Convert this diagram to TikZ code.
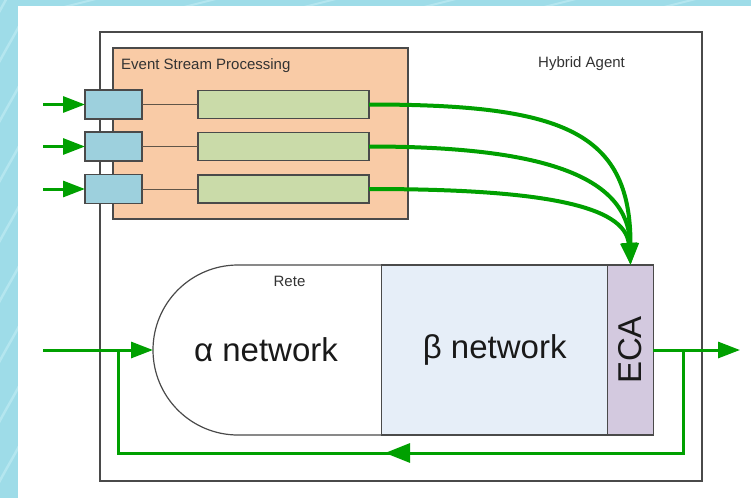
\documentclass[tikz,border=0pt]{standalone}
\usepackage{fontspec}
\setmainfont{Liberation Sans}
\usetikzlibrary{arrows.meta}
\definecolor{bgcyan}{HTML}{9EDCE8}
\definecolor{bgstreak}{HTML}{B4E6EF}
\definecolor{flow}{HTML}{00A000}
\definecolor{edge}{HTML}{4A4A4A}
\definecolor{espfill}{HTML}{F9CBA6}
\definecolor{portfill}{HTML}{9DD0DD}
\definecolor{queuefill}{HTML}{CADBA9}
\definecolor{betafill}{HTML}{E6EEF8}
\definecolor{ecafill}{HTML}{D3C9DF}
\tikzset{
  box/.style={draw=edge, line width=1.3pt, inner sep=0pt, outer sep=0pt},
  port/.style={box, fill=portfill, minimum width=57, minimum height=29},
  queue/.style={box, fill=queuefill, minimum width=171, minimum height=28},
  link/.style={draw=edge!80!brown, line width=1pt},
  flowline/.style={draw=flow, line width=3pt},
  streamline/.style={draw=flow, line width=4pt},
  flowtip/.style={-{Triangle[length=22pt,width=16pt]}},
  smalltext/.style={text=black!80, font=\fontsize{15}{17}\selectfont, inner sep=0pt},
  bigtext/.style={text=black!90, font=\fontsize{33}{38}\selectfont, inner sep=0pt}
}
\begin{document}
\begin{tikzpicture}[x=1pt,y=-1pt]
\useasboundingbox (0,0) rectangle (751,498);

% page background: patterned cyan margin and white sheet
\fill[bgcyan] (0,0) rectangle (751,498);
\begin{scope}
  \clip (0,0) rectangle (751,6) (0,0) rectangle (18,498);
  \foreach \y in {20,70,130,190,250,310,370,430,490} {
    \draw[bgstreak, line width=2.5pt] (-5,\y) .. controls (8,\y-25) and (12,\y-30) .. (25,\y-55);
  }
  \foreach \x in {60,180,300,420,540,660} {
    \draw[bgstreak, line width=2pt] (\x,8) -- (\x+40,-2);
  }
\end{scope}
\fill[white] (18,6) rectangle (751,498);

% hybrid agent frame
\node[box, draw=edge, minimum width=602, minimum height=449, anchor=north west] (agent) at (100,32) {};
\node[smalltext, anchor=west] (agentlbl) at (538,64) {Hybrid Agent};

% event stream processing block
\node[box, fill=espfill, minimum width=295, minimum height=171, anchor=north west] (esp) at (113,48) {};
\node[smalltext, anchor=west] (esplbl) at (121,66) {Event Stream Processing};

\foreach \i/\y in {1/104.5, 2/146.5, 3/189} {
  \node[port] (p\i) at (113.5,\y) {};
  \node[queue] (q\i) at (283.5,\y) {};
  \coordinate (in\i) at (43,\y);
  \draw[link] (p\i.east) -- (q\i.west);
  \draw[flowline, flowtip] (in\i) -- (p\i.west);
}

% Rete: alpha network (rounded head), beta network, ECA
\coordinate (atop) at (381.7,265);
\coordinate (abot) at (381.7,435);
\draw[edge, line width=1.2pt, fill=white] (atop) -- (238,265) arc[start angle=90, end angle=270, radius=85pt] -- (abot);
\node[box, fill=betafill, minimum width=226, minimum height=170] (beta) at (494.7,350) {};
\node[box, fill=ecafill, minimum width=45.6, minimum height=170] (eca) at (630.5,350) {};
\coordinate (alphaL) at (153,350);
\node[bigtext] (alpha) at (266,350) {α network};
\node[bigtext] (betalbl) at (494.7,350) {β network};
\node[bigtext, rotate=90] (ecalbl) at (eca.center) {ECA};
\node[smalltext] (rete) at (289.5,281) {Rete};

% event streams feeding the ECA rules
\draw[streamline, flowtip] (q1.east) .. controls +(191,0) and +(0,-135) .. (eca.north);
\draw[streamline, flowtip] (q2.east) .. controls +(171,0) and +(-2,-90) .. (eca.north);
\draw[streamline, flowtip] (q3.east) .. controls +(171,0) and +(-5,-60) .. (eca.north);

% main input, output and feedback loop
\coordinate (mainin) at (43,350);
\coordinate (mainout) at (740,350);
\coordinate (jl) at (118,350);
\coordinate (jr) at (683,350);
\coordinate (loopr) at (683,453);
\coordinate (loopl) at (118,453);
\coordinate (tipfrom) at (420,453);
\coordinate (tipto) at (385,453);
\draw[flowline, flowtip] (mainin) -- (alphaL);
\draw[flowline, flowtip] (eca.east) -- (mainout);
\draw[flowline, line join=miter] (jr) -- (loopr) -- (loopl) -- (jl);
\draw[flowline, -{Triangle[length=25pt,width=19pt]}] (tipfrom) -- (tipto);
\end{tikzpicture}
\end{document}
